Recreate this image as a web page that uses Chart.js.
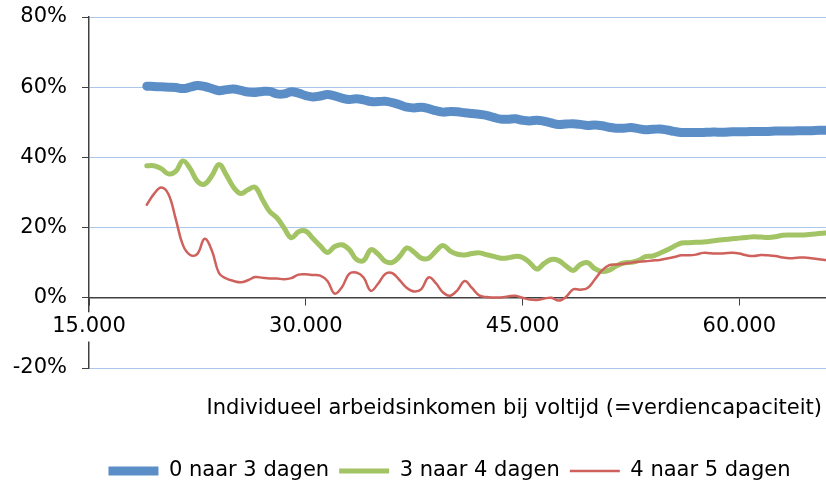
<!DOCTYPE html>
<html><head><meta charset="utf-8">
<script src="https://cdn.jsdelivr.net/npm/chart.js@4/dist/chart.umd.min.js"></script>
<style>html,body{margin:0;padding:0;background:#fff}</style>
</head><body>
<canvas id="c" width="826" height="485"></canvas>
<script>
// Individueel arbeidsinkomen (x-axis values)
const incomes = [19000,19500,20000,20500,21000,21500,22000,22500,23000,23500,24000,24500,25000,25500,26000,26500,27000,27500,28000,28500,29000,29500,30000,30500,31000,31500,32000,32500,33000,33500,34000,34500,35000,35500,36000,36500,37000,37500,38000,38500,39000,39500,40000,40500,41000,41500,42000,42500,43000,43500,44000,44500,45000,45500,46000,46500,47000,47500,48000,48500,49000,49500,50000,50500,51000,51500,52000,52500,53000,53500,54000,54500,55000,55500,56000,56500,57000,57500,58000,58500,59000,59500,60000,60500,61000,61500,62000,62500,63000,63500,64000,64500,65000,65500,66000];

const naar3 = [60.3,60.2,60.1,60.0,59.9,59.6,60.0,60.5,60.2,59.6,59.0,59.3,59.5,59.1,58.6,58.5,58.8,58.8,58.1,58.1,58.7,58.3,57.6,57.2,57.5,57.9,57.5,56.9,56.5,56.7,56.4,55.9,55.9,56.0,55.6,55.0,54.3,54.1,54.3,53.9,53.3,52.9,53.1,53.0,52.7,52.5,52.3,52.0,51.4,50.9,50.9,51.0,50.6,50.4,50.6,50.3,49.8,49.4,49.5,49.6,49.4,49.1,49.2,49.0,48.6,48.3,48.3,48.5,48.2,47.9,48.0,48.1,47.8,47.4,47.1,47.1,47.1,47.1,47.2,47.2,47.2,47.3,47.3,47.3,47.4,47.4,47.4,47.5,47.5,47.5,47.6,47.6,47.6,47.7,47.7];

const naar4 = [37.6,37.6,36.8,35.3,36.0,39.0,36.8,33.2,32.4,34.8,38.0,35.0,31.5,29.7,30.8,31.5,28.0,24.6,22.8,19.9,17.1,18.8,19.0,16.9,14.8,12.9,14.6,15.1,13.8,11.0,10.6,13.7,12.5,10.4,10.1,11.8,14.2,13.0,11.3,11.3,13.3,14.9,13.3,12.4,12.2,12.6,12.8,12.3,11.8,11.3,11.4,11.8,11.5,10.0,8.2,9.8,10.9,10.6,9.1,7.8,9.5,10.0,8.3,7.5,7.9,9.1,9.9,10.1,10.6,11.7,11.9,12.7,13.6,14.7,15.6,15.7,15.8,15.9,16.1,16.4,16.6,16.8,17.0,17.2,17.4,17.3,17.2,17.4,17.8,17.9,17.9,17.9,18.1,18.3,18.5];

const naar5 = [26.5,29.6,31.4,29.5,22.5,15.0,12.2,12.5,16.8,13.5,7.0,5.5,4.8,4.4,5.0,5.9,5.7,5.5,5.5,5.3,5.6,6.6,6.7,6.5,6.3,4.8,1.2,3.0,6.8,7.2,5.8,2.0,4.0,6.8,7.0,5.0,2.8,1.8,2.5,5.8,4.2,1.5,0.6,2.2,4.8,2.8,0.7,0.2,0.1,0.1,0.4,0.6,0.0,-0.5,-0.6,-0.2,0.0,-0.8,0.2,2.4,2.3,2.8,5.2,7.8,9.3,9.5,9.7,10.0,10.3,10.4,10.6,10.8,11.2,11.6,12.1,12.1,12.3,12.8,12.7,12.6,12.7,12.8,12.6,12.1,11.9,12.2,12.1,11.9,11.5,11.3,11.4,11.5,11.3,11.0,10.8];

const seriesNames = ['0 naar 3 dagen','3 naar 4 dagen','4 naar 5 dagen'];
const xTicks = [15000,30000,45000,60000];
const yTicks = [-20,0,20,40,60,80];
const xTitle = 'Individueel arbeidsinkomen bij voltijd (=verdiencapaciteit)';

const pts = vals => incomes.map((x,i)=>({x:x,y:vals[i]}));
const fmt = v => String(v).replace(/\B(?=(\d{3})+(?!\d))/g,'.');
const AXIS = '#404040';

Chart.defaults.font.family = '"DejaVu Sans", Verdana, sans-serif';
Chart.defaults.font.size = 21;
Chart.defaults.color = '#000';

// small position nudges for the legend and bottom title (layout only)
const nudge = {
  id: 'nudge',
  afterLayout(chart) {
    if (chart.legend) { chart.legend.left -= 8; chart.legend.right -= 8; }
    if (chart.titleBlock) { chart.titleBlock.right -= 4; }
  }
};

new Chart(document.getElementById('c'), {
  type: 'line',
  data: {
    datasets: [
      {label: seriesNames[0], data: pts(naar3), borderColor:'#5b8ec7', backgroundColor:'#5b8ec7', borderWidth:9, borderCapStyle:'round', borderJoinStyle:'round', pointRadius:0, pointStyle:'line', tension:0.4, order:2},
      {label: seriesNames[1], data: pts(naar4), borderColor:'#a3c464', backgroundColor:'#a3c464', borderWidth:5, borderCapStyle:'round', borderJoinStyle:'round', pointRadius:0, pointStyle:'line', tension:0.4, order:1},
      {label: seriesNames[2], data: pts(naar5), borderColor:'#cf615c', backgroundColor:'#cf615c', borderWidth:2.5, borderCapStyle:'round', borderJoinStyle:'round', pointRadius:0, pointStyle:'line', tension:0.4, order:0}
    ]
  },
  plugins: [nudge],
  options: {
    responsive: false,
    animation: false,
    events: [],
    layout: {padding: {top: 17, right: 0, bottom: -6.5, left: 0}},
    scales: {
      x: {
        type: 'linear', min: 15000, max: 66000,
        position: {y: 0},
        afterBuildTicks: s => { s.ticks = xTicks.map(v => ({value: v})); },
        grid: {drawOnChartArea: false, drawTicks: true, tickLength: 7, color: AXIS, tickColor: AXIS, lineWidth: 1},
        border: {color: AXIS, width: 1.5},
        ticks: {callback: v => fmt(v), maxRotation: 0, autoSkip: false, padding: 9.5, z: 1,
                showLabelBackdrop: true, backdropColor: '#fff', backdropPadding: {x: 2, y: 2}}
      },
      y: {
        min: -20, max: 80,
        afterBuildTicks: s => { s.ticks = yTicks.map(v => ({value: v})); },
        afterFit: s => { s.width = 89; s.paddingTop = 10; s.paddingBottom = 10; },
        grid: {color: '#abc8ea', lineWidth: 1, tickLength: 7, tickColor: AXIS},
        border: {color: AXIS, width: 1.5},
        ticks: {callback: v => v + '%', padding: 15}
      }
    },
    plugins: {
      tooltip: {enabled: false},
      title: {display: true, text: xTitle, position: 'bottom', align: 'end', weight: 500,
              font: {size: 21, weight: 'normal'}, color: '#000', padding: {top: 28.4, bottom: 28.9}},
      legend: {
        position: 'bottom', fullSize: false, weight: 1000,
        labels: {usePointStyle: true, pointStyleWidth: 50, padding: 10, color: '#000', font: {size: 21},
                 sort: (a, b) => a.datasetIndex - b.datasetIndex}
      }
    }
  }
});
</script>
</body></html>
